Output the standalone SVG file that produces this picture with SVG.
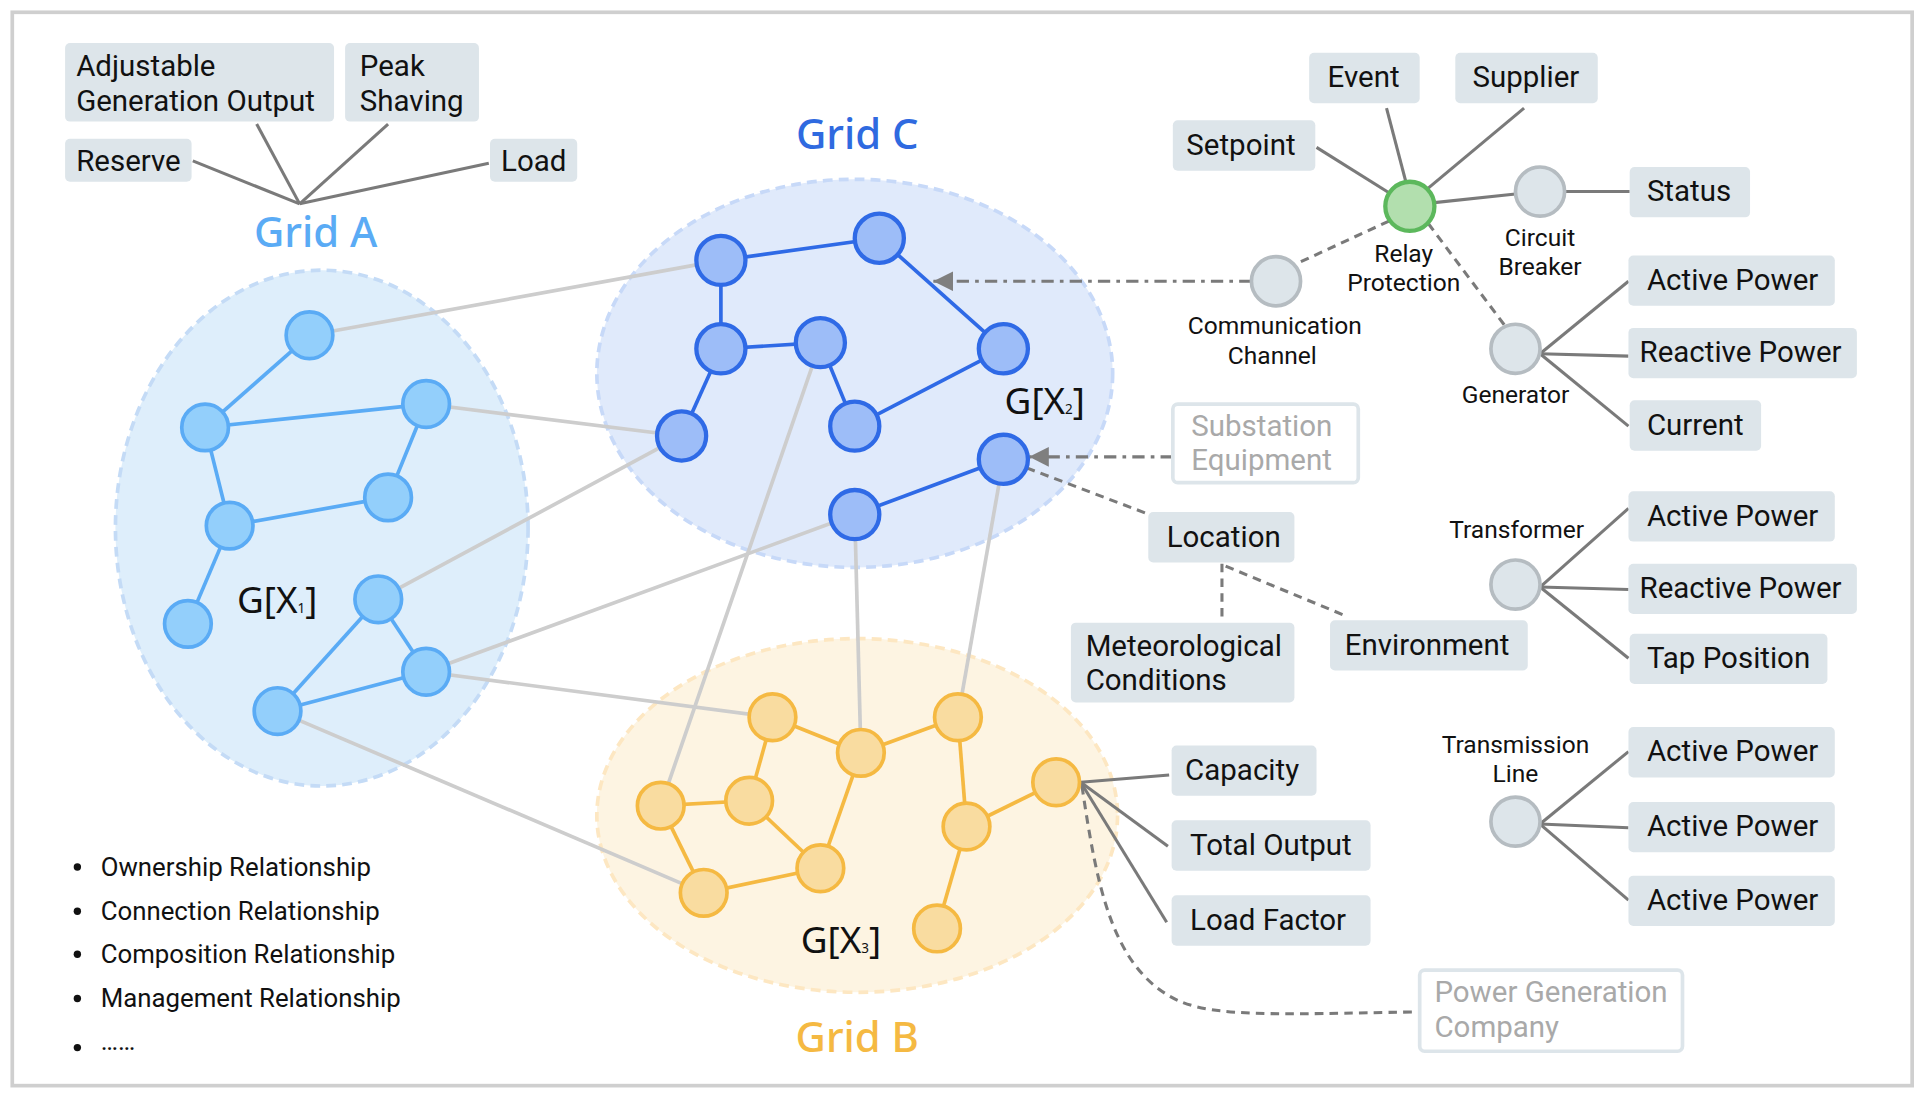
<svg xmlns="http://www.w3.org/2000/svg" width="1922" height="1093" viewBox="0 0 1922 1093">
<defs>
<style>
.box{fill:#dde5ea}
.obox{fill:#ffffff;stroke:#dde5ea;stroke-width:3}
.t{font-family:Roboto,"Liberation Sans",sans-serif;font-size:24px;fill:#111111}
.tg{fill:#a9a9a9}
.lab{font-family:Roboto,"Liberation Sans",sans-serif;font-size:20px;fill:#111111}
.leg{font-family:Roboto,"Liberation Sans",sans-serif;font-size:21px;fill:#111111}
.title{font-family:"Noto Sans","Open Sans",sans-serif;font-size:34px;font-weight:500}
.gx{font-family:"Noto Sans","Open Sans",sans-serif;font-size:30px;fill:#111111}
.con{stroke:#7a7a7a;stroke-width:2.5;fill:none}
.dash{stroke-dasharray:7 5}
.dd{stroke-dasharray:10 5 3 5}
.ig{stroke:#cdcdcd;stroke-width:3;fill:none}
.na{fill:#93cffb;stroke:#5aabf5;stroke-width:3}
.ea{stroke:#5aabf5;stroke-width:3}
.nc{fill:#9dbdf8;stroke:#2f6ae6;stroke-width:3.5}
.ec{stroke:#2f6ae6;stroke-width:3}
.nb{fill:#f9dca0;stroke:#f5b942;stroke-width:3}
.eb{stroke:#f5b942;stroke-width:3}
.ng{fill:#dde5ea;stroke:#b5bcc1;stroke-width:3}
</style>
<marker id="arr" markerUnits="userSpaceOnUse" markerWidth="17" markerHeight="17" refX="16" refY="8" orient="auto">
<path d="M0,0 L16,8 L0,16 z" fill="#7f7f7f"/>
</marker>
</defs>
<rect x="0" y="0" width="1922" height="1093" fill="#ffffff"/>
<g transform="scale(1.2281)">
<rect x="10" y="10" width="1547" height="874" fill="#ffffff" stroke="#cfcfcf" stroke-width="3"/>

<!-- grid areas -->
<g id="gridA-area">
<ellipse cx="262" cy="430" rx="168" ry="210" fill="#deeefb" stroke="#c4dbf6" stroke-width="3" stroke-dasharray="8 5"/>
<text class="title" x="257" y="201" text-anchor="middle" fill="#5aabf5">Grid A</text>
<text class="gx" x="193" y="499">G[X<tspan font-size="11" dy="0">1</tspan>]</text>
</g>
<g id="gridC-area">
<ellipse cx="696" cy="304" rx="210" ry="158" fill="#e0eafb" stroke="#c7d9f8" stroke-width="3" stroke-dasharray="8 5"/>
<text class="title" x="698" y="121" text-anchor="middle" fill="#2f6ae0">Grid C</text>
<text class="gx" x="818" y="337">G[X<tspan font-size="11">2</tspan>]</text>
</g>
<g id="gridB-area">
<ellipse cx="698" cy="664" rx="212" ry="144" fill="#fdf4e2" stroke="#fde7c2" stroke-width="3" stroke-dasharray="8 5"/>
<text class="title" x="698" y="857" text-anchor="middle" fill="#f5b942">Grid B</text>
<text class="gx" x="652" y="776">G[X<tspan font-size="11">3</tspan>]</text>
</g>

<!-- connectors -->
<g id="connectors">
<g id="inter-grid">
<line class="ig" x1="252" y1="273" x2="587" y2="212"/>
<line class="ig" x1="347" y1="329" x2="555" y2="355"/>
<line class="ig" x1="308" y1="488" x2="555" y2="355"/>
<line class="ig" x1="347" y1="547" x2="696" y2="419"/>
<line class="ig" x1="347" y1="547" x2="629" y2="584"/>
<line class="ig" x1="226" y1="579" x2="573" y2="727"/>
<line class="ig" x1="668" y1="279" x2="538" y2="656"/>
<line class="ig" x1="696" y1="419" x2="701" y2="613"/>
<line class="ig" x1="817" y1="374" x2="780" y2="584"/>
</g>
<g id="gridA-edges">
<line class="ea" x1="252" y1="273" x2="167" y2="348"/>
<line class="ea" x1="167" y1="348" x2="347" y2="329"/>
<line class="ea" x1="167" y1="348" x2="187" y2="428"/>
<line class="ea" x1="347" y1="329" x2="316" y2="405"/>
<line class="ea" x1="187" y1="428" x2="316" y2="405"/>
<line class="ea" x1="187" y1="428" x2="153" y2="508"/>
<line class="ea" x1="308" y1="488" x2="347" y2="547"/>
<line class="ea" x1="308" y1="488" x2="226" y2="579"/>
<line class="ea" x1="226" y1="579" x2="347" y2="547"/>
</g>
<g id="gridC-edges">
<line class="ec" x1="587" y1="212" x2="716" y2="194"/>
<line class="ec" x1="716" y1="194" x2="817" y2="284"/>
<line class="ec" x1="587" y1="212" x2="587" y2="284"/>
<line class="ec" x1="587" y1="284" x2="668" y2="279"/>
<line class="ec" x1="587" y1="284" x2="555" y2="355"/>
<line class="ec" x1="668" y1="279" x2="696" y2="347"/>
<line class="ec" x1="696" y1="347" x2="817" y2="284"/>
<line class="ec" x1="696" y1="419" x2="817" y2="374"/>
</g>
<g id="gridB-edges">
<line class="eb" x1="629" y1="584" x2="701" y2="613"/>
<line class="eb" x1="701" y1="613" x2="780" y2="584"/>
<line class="eb" x1="629" y1="584" x2="610" y2="652"/>
<line class="eb" x1="538" y1="656" x2="610" y2="652"/>
<line class="eb" x1="538" y1="656" x2="573" y2="727"/>
<line class="eb" x1="573" y1="727" x2="668" y2="707"/>
<line class="eb" x1="610" y1="652" x2="668" y2="707"/>
<line class="eb" x1="668" y1="707" x2="701" y2="613"/>
<line class="eb" x1="780" y1="584" x2="787" y2="673"/>
<line class="eb" x1="787" y1="673" x2="860" y2="637"/>
<line class="eb" x1="787" y1="673" x2="763" y2="756"/>
</g>
<g id="attribute-links">
<line class="con" x1="157" y1="131" x2="244" y2="166"/>
<line class="con" x1="209" y1="101" x2="244" y2="166"/>
<line class="con" x1="316" y1="101" x2="244" y2="166"/>
<line class="con" x1="398" y1="133" x2="244" y2="166"/>
<line class="con" x1="1072" y1="120" x2="1131" y2="157"/>
<line class="con" x1="1129" y1="88" x2="1145" y2="149"/>
<line class="con" x1="1241" y1="88" x2="1162" y2="154"/>
<line class="con" x1="1168" y1="165" x2="1234" y2="158"/>
<line class="con" x1="1274" y1="156" x2="1327" y2="156"/>
<line class="con" x1="1254" y1="288" x2="1326" y2="229"/>
<line class="con" x1="1254" y1="288" x2="1326" y2="290"/>
<line class="con" x1="1254" y1="288" x2="1326" y2="347"/>
<line class="con" x1="1254" y1="478" x2="1326" y2="414"/>
<line class="con" x1="1254" y1="478" x2="1326" y2="480"/>
<line class="con" x1="1254" y1="478" x2="1326" y2="536"/>
<line class="con" x1="1254" y1="671" x2="1326" y2="612"/>
<line class="con" x1="1254" y1="671" x2="1326" y2="674"/>
<line class="con" x1="1254" y1="671" x2="1326" y2="733"/>
<line class="con" x1="880" y1="637" x2="952" y2="631"/>
<line class="con" x1="880" y1="637" x2="951" y2="689"/>
<line class="con" x1="880" y1="637" x2="950" y2="751"/>
</g>
<g id="dashed-links">
<line class="con dd" x1="1019" y1="229" x2="760" y2="229" marker-end="url(#arr)"/>
<line class="con dd" x1="955" y1="372" x2="838" y2="372" marker-end="url(#arr)"/>
<line class="con dash" x1="1131" y1="180" x2="1053" y2="216"/>
<line class="con dash" x1="1163" y1="182" x2="1226" y2="266"/>
<line class="con dash" x1="836" y1="381" x2="936" y2="419"/>
<line class="con dash" x1="995" y1="459" x2="995" y2="507"/>
<line class="con dash" x1="998" y1="461" x2="1097" y2="502"/>
<path class="con dash" d="M881,640 C893,720 905,790 960,815 C990,828 1040,826 1150,824"/>
</g>
</g>

<!-- Grid A nodes -->
<g id="A1"><circle class="na" cx="252" cy="273" r="19"/></g>
<g id="A2"><circle class="na" cx="167" cy="348" r="19"/></g>
<g id="A3"><circle class="na" cx="347" cy="329" r="19"/></g>
<g id="A4"><circle class="na" cx="187" cy="428" r="19"/></g>
<g id="A5"><circle class="na" cx="316" cy="405" r="19"/></g>
<g id="A6"><circle class="na" cx="153" cy="508" r="19"/></g>
<g id="A7"><circle class="na" cx="308" cy="488" r="19"/></g>
<g id="A8"><circle class="na" cx="347" cy="547" r="19"/></g>
<g id="A9"><circle class="na" cx="226" cy="579" r="19"/></g>
<!-- Grid C nodes -->
<g id="C1"><circle class="nc" cx="587" cy="212" r="20"/></g>
<g id="C2"><circle class="nc" cx="716" cy="194" r="20"/></g>
<g id="C3"><circle class="nc" cx="587" cy="284" r="20"/></g>
<g id="C4"><circle class="nc" cx="668" cy="279" r="20"/></g>
<g id="C5"><circle class="nc" cx="817" cy="284" r="20"/></g>
<g id="C6"><circle class="nc" cx="555" cy="355" r="20"/></g>
<g id="C7"><circle class="nc" cx="696" cy="347" r="20"/></g>
<g id="C8"><circle class="nc" cx="817" cy="374" r="20"/></g>
<g id="C9"><circle class="nc" cx="696" cy="419" r="20"/></g>
<!-- Grid B nodes -->
<g id="B1"><circle class="nb" cx="629" cy="584" r="19"/></g>
<g id="B2"><circle class="nb" cx="701" cy="613" r="19"/></g>
<g id="B3"><circle class="nb" cx="780" cy="584" r="19"/></g>
<g id="B4"><circle class="nb" cx="538" cy="656" r="19"/></g>
<g id="B5"><circle class="nb" cx="610" cy="652" r="19"/></g>
<g id="B6"><circle class="nb" cx="668" cy="707" r="19"/></g>
<g id="B7"><circle class="nb" cx="573" cy="727" r="19"/></g>
<g id="B8"><circle class="nb" cx="787" cy="673" r="19"/></g>
<g id="B9"><circle class="nb" cx="860" cy="637" r="19"/></g>
<g id="B10"><circle class="nb" cx="763" cy="756" r="19"/></g>

<!-- equipment nodes -->
<g id="comm-channel"><circle class="ng" cx="1039" cy="229" r="20"/>
<text class="lab" x="1038" y="272" text-anchor="middle">Communication</text>
<text class="lab" x="1036" y="296" text-anchor="middle">Channel</text></g>
<g id="relay-protection"><circle cx="1148" cy="168" r="20" fill="#b2dfae" stroke="#5cb85c" stroke-width="3.5"/>
<text class="lab" x="1143" y="213" text-anchor="middle">Relay</text>
<text class="lab" x="1143" y="237" text-anchor="middle">Protection</text></g>
<g id="circuit-breaker"><circle class="ng" cx="1254" cy="156" r="20"/>
<text class="lab" x="1254" y="200" text-anchor="middle">Circuit</text>
<text class="lab" x="1254" y="224" text-anchor="middle">Breaker</text></g>
<g id="generator"><circle class="ng" cx="1234" cy="284" r="20"/>
<text class="lab" x="1234" y="328" text-anchor="middle">Generator</text></g>
<g id="transformer"><circle class="ng" cx="1234" cy="476" r="20"/>
<text class="lab" x="1235" y="438" text-anchor="middle">Transformer</text></g>
<g id="transmission-line"><circle class="ng" cx="1234" cy="669" r="20"/>
<text class="lab" x="1234" y="613" text-anchor="middle">Transmission</text>
<text class="lab" x="1234" y="637" text-anchor="middle">Line</text></g>

<!-- attribute boxes -->
<g id="adjustable-generation-output"><rect class="box" x="53" y="35" width="219" height="64" rx="4"/>
<text class="t" x="62" y="62">Adjustable</text><text class="t" x="62" y="90">Generation Output</text></g>
<g id="peak-shaving"><rect class="box" x="281" y="35" width="109" height="64" rx="4"/>
<text class="t" x="293" y="62">Peak</text><text class="t" x="293" y="90">Shaving</text></g>
<g id="reserve"><rect class="box" x="53" y="113" width="103" height="35" rx="4"/>
<text class="t" x="62" y="139">Reserve</text></g>
<g id="load"><rect class="box" x="399" y="113" width="71" height="35" rx="4"/>
<text class="t" x="408" y="139">Load</text></g>
<g id="setpoint"><rect class="box" x="955" y="98" width="116" height="41" rx="4"/>
<text class="t" x="966" y="126">Setpoint</text></g>
<g id="event"><rect class="box" x="1066" y="43" width="90" height="41" rx="4"/>
<text class="t" x="1081" y="71">Event</text></g>
<g id="supplier"><rect class="box" x="1185" y="43" width="116" height="41" rx="4"/>
<text class="t" x="1199" y="71">Supplier</text></g>
<g id="status"><rect class="box" x="1327" y="136" width="98" height="41" rx="4"/>
<text class="t" x="1341" y="164">Status</text></g>
<g id="gen-active-power"><rect class="box" x="1326" y="208" width="168" height="41" rx="4"/>
<text class="t" x="1341" y="236">Active Power</text></g>
<g id="gen-reactive-power"><rect class="box" x="1326" y="267" width="186" height="41" rx="4"/>
<text class="t" x="1335" y="295">Reactive Power</text></g>
<g id="gen-current"><rect class="box" x="1327" y="326" width="107" height="41" rx="4"/>
<text class="t" x="1341" y="354">Current</text></g>
<g id="substation-equipment"><rect class="obox" x="955" y="329" width="151" height="64" rx="4"/>
<text class="t tg" x="970" y="355">Substation</text><text class="t tg" x="970" y="383">Equipment</text></g>
<g id="location"><rect class="box" x="935" y="417" width="119" height="41" rx="4"/>
<text class="t" x="950" y="445">Location</text></g>
<g id="meteorological-conditions"><rect class="box" x="872" y="507" width="182" height="65" rx="4"/>
<text class="t" x="884" y="534">Meteorological</text><text class="t" x="884" y="562">Conditions</text></g>
<g id="environment"><rect class="box" x="1083" y="505" width="161" height="41" rx="4"/>
<text class="t" x="1095" y="533">Environment</text></g>
<g id="tr-active-power"><rect class="box" x="1326" y="400" width="168" height="41" rx="4"/>
<text class="t" x="1341" y="428">Active Power</text></g>
<g id="tr-reactive-power"><rect class="box" x="1326" y="459" width="186" height="41" rx="4"/>
<text class="t" x="1335" y="487">Reactive Power</text></g>
<g id="tap-position"><rect class="box" x="1327" y="516" width="161" height="41" rx="4"/>
<text class="t" x="1341" y="544">Tap Position</text></g>
<g id="tl-active-power-1"><rect class="box" x="1326" y="592" width="168" height="41" rx="4"/>
<text class="t" x="1341" y="620">Active Power</text></g>
<g id="tl-active-power-2"><rect class="box" x="1326" y="653" width="168" height="41" rx="4"/>
<text class="t" x="1341" y="681">Active Power</text></g>
<g id="tl-active-power-3"><rect class="box" x="1326" y="713" width="168" height="41" rx="4"/>
<text class="t" x="1341" y="741">Active Power</text></g>
<g id="capacity"><rect class="box" x="954" y="607" width="118" height="41" rx="4"/>
<text class="t" x="965" y="635">Capacity</text></g>
<g id="total-output"><rect class="box" x="954" y="668" width="162" height="41" rx="4"/>
<text class="t" x="969" y="696">Total Output</text></g>
<g id="load-factor"><rect class="box" x="954" y="729" width="162" height="41" rx="4"/>
<text class="t" x="969" y="757">Load Factor</text></g>
<g id="power-generation-company"><rect class="obox" x="1156" y="790" width="214" height="66" rx="4"/>
<text class="t tg" x="1168" y="816">Power Generation</text><text class="t tg" x="1168" y="844">Company</text></g>

<!-- legend -->
<g id="legend">
<circle cx="63" cy="706" r="3" fill="#111"/><text class="leg" x="82" y="713">Ownership Relationship</text>
<circle cx="63" cy="742" r="3" fill="#111"/><text class="leg" x="82" y="749">Connection Relationship</text>
<circle cx="63" cy="777" r="3" fill="#111"/><text class="leg" x="82" y="784">Composition Relationship</text>
<circle cx="63" cy="813" r="3" fill="#111"/><text class="leg" x="82" y="820">Management Relationship</text>
<circle cx="63" cy="853" r="3" fill="#111"/><text class="leg" x="82" y="855">……</text>
</g>
</g>
</svg>
